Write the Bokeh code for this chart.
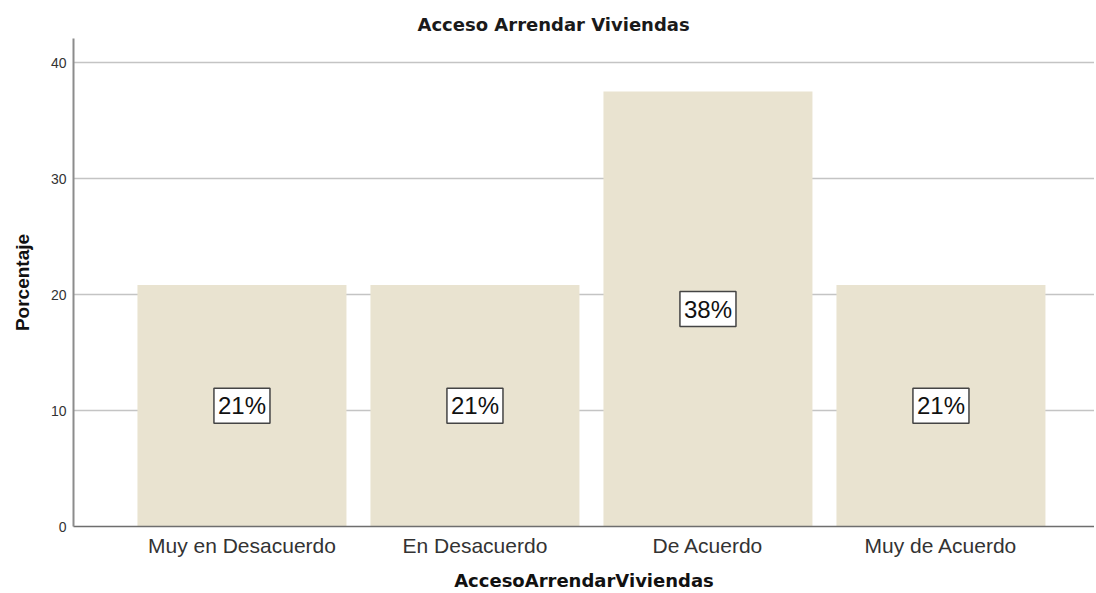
from bokeh.plotting import figure
from bokeh.models import ColumnDataSource, FixedTicker, Range1d
from bokeh.core.properties import value
from bokeh.embed import file_html
from bokeh.resources import INLINE

categories = ["Muy en Desacuerdo", "En Desacuerdo", "De Acuerdo", "Muy de Acuerdo"]
percentages = [20.83, 20.83, 37.5, 20.83]
bar_labels = ["21%", "21%", "38%", "21%"]
y_ticks = [0, 10, 20, 30, 40]

xs = list(range(1, len(categories) + 1))
src = ColumnDataSource(dict(
    x=xs,
    top=percentages,
    mid=[v / 2 for v in percentages],
    lab=bar_labels,
))

p = figure(width=1094, height=593, output_backend="svg", toolbar_location=None,
           x_range=Range1d(0.277, 4.659), y_range=Range1d(0, 42.07),
           min_border_left=73, min_border_right=0, min_border_top=38, min_border_bottom=67)

p.title.text = "Acceso Arrendar Viviendas"
p.title.align = "left"
p.title.offset = 344
p.title.standoff = 7
p.title.text_font = "DejaVu Sans"
p.title.text_font_size = "18px"
p.title.text_font_style = "bold"
p.title.text_color = "#1a1a1a"

p.vbar(x="x", top="top", width=0.897, source=src, fill_color="#E9E3D0", line_color=None)

p.text(x="x", y="mid", text="lab", source=src,
       text_align="center", text_baseline="middle",
       text_font=value("Liberation Sans"), text_font_size="24px", text_color="#111111",
       background_fill_color="white", border_line_color="#444444",
       border_line_width=1.5, padding=4)

p.outline_line_color = None
p.background_fill_color = "white"
p.border_fill_color = "white"

p.xgrid.grid_line_color = None
p.ygrid.grid_line_color = "#C4C4C4"
p.ygrid.grid_line_width = 1.5
p.ygrid.ticker = FixedTicker(ticks=y_ticks)

p.yaxis.ticker = FixedTicker(ticks=y_ticks)
p.yaxis.axis_label = "Porcentaje"
p.yaxis.axis_label_text_font = "Liberation Sans"
p.yaxis.axis_label_text_font_size = "19px"
p.yaxis.axis_label_text_font_style = "bold"
p.yaxis.axis_label_text_color = "#111111"
p.yaxis.axis_label_standoff = 15
p.yaxis.major_label_text_font = "Liberation Sans"
p.yaxis.major_label_text_font_size = "14px"
p.yaxis.major_label_text_color = "#333333"
p.yaxis.major_label_standoff = 1
p.yaxis.major_tick_line_color = None
p.yaxis.minor_tick_line_color = None
p.yaxis.axis_line_color = "#8c8c8c"
p.yaxis.axis_line_width = 2

p.xaxis.ticker = FixedTicker(ticks=xs)
p.xaxis.major_label_overrides = {x: c for x, c in zip(xs, categories)}
p.xaxis.axis_label = "AccesoArrendarViviendas"
p.xaxis.axis_label_text_font = "DejaVu Sans"
p.xaxis.axis_label_text_font_size = "18px"
p.xaxis.axis_label_text_font_style = "bold"
p.xaxis.axis_label_text_color = "#111111"
p.xaxis.axis_label_standoff = 10
p.xaxis.major_label_text_font = "Liberation Sans"
p.xaxis.major_label_text_font_size = "21px"
p.xaxis.major_label_text_color = "#333333"
p.xaxis.major_label_standoff = 1
p.xaxis.major_tick_line_color = None
p.xaxis.minor_tick_line_color = None
p.xaxis.axis_line_color = "#6e6e6e"
p.xaxis.axis_line_width = 1.5

open("out.html", "w").write(file_html(p, INLINE))
